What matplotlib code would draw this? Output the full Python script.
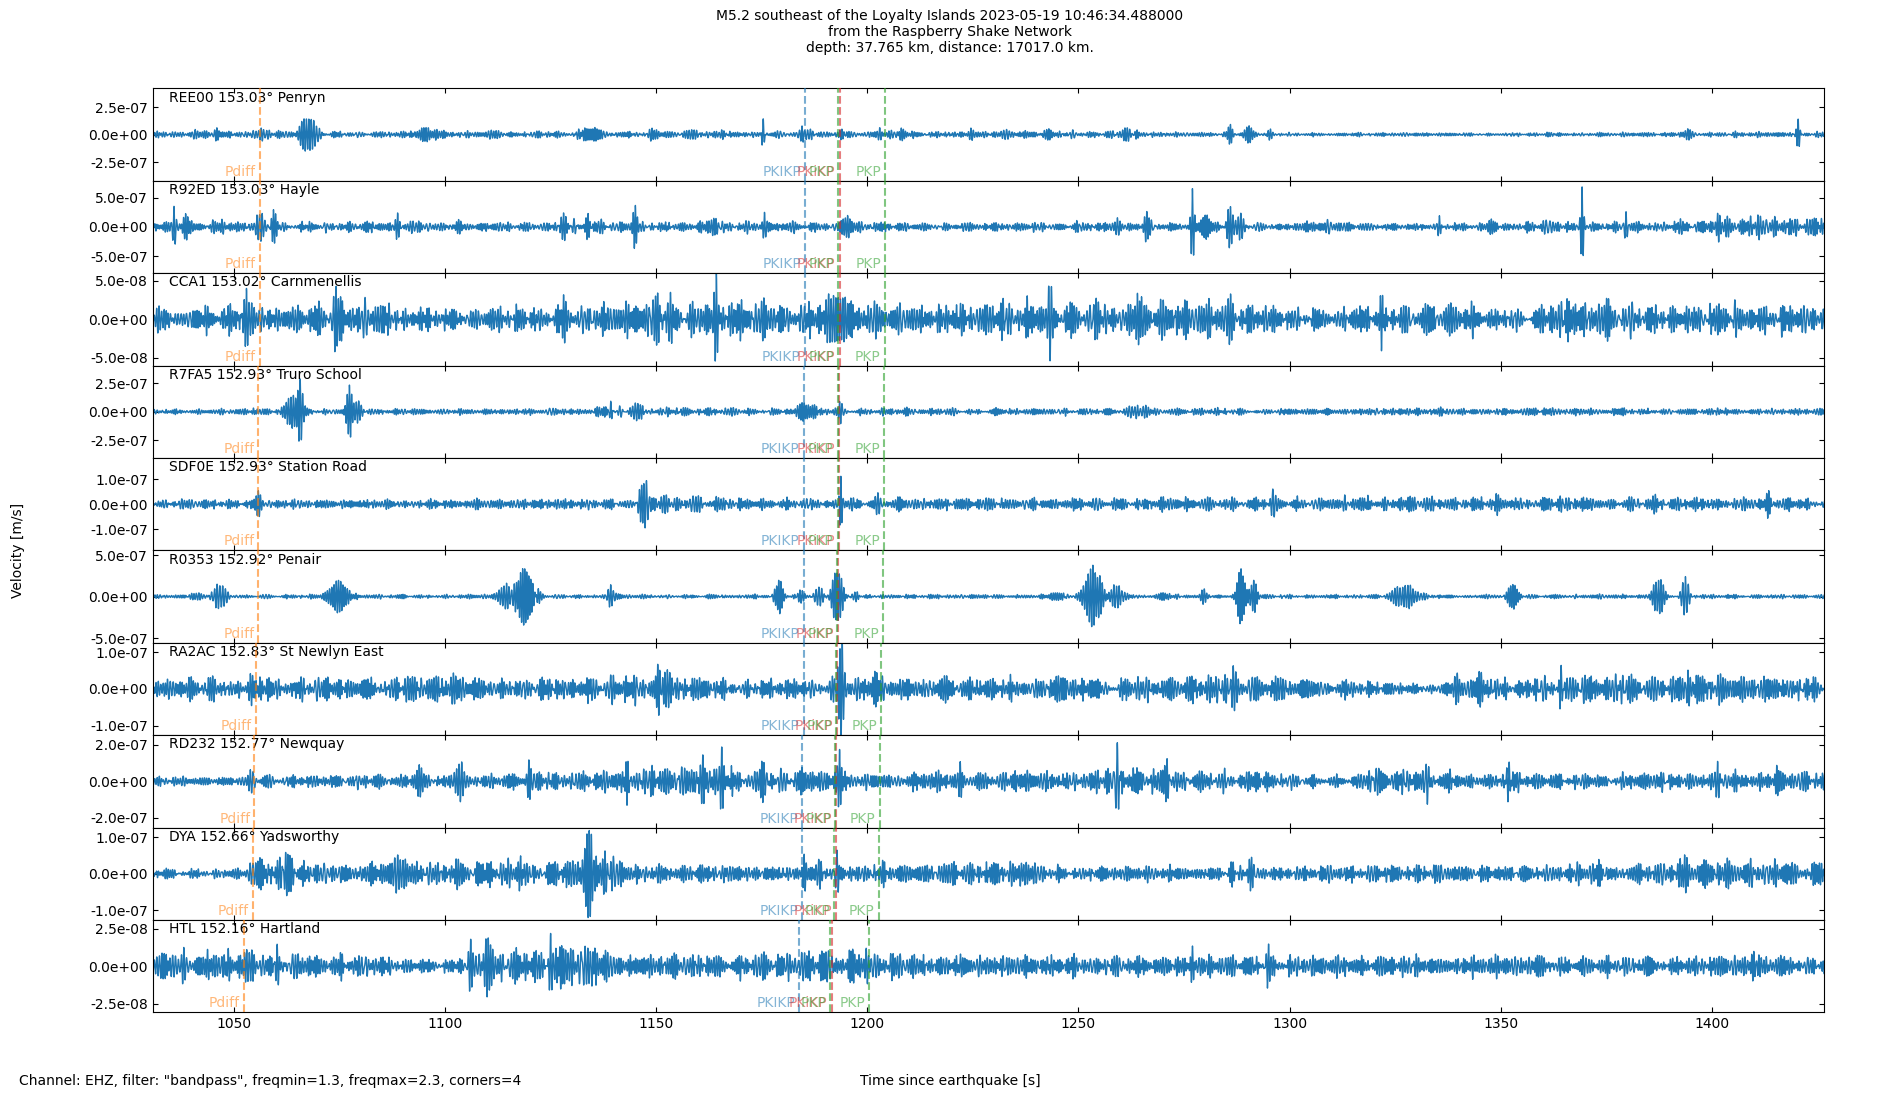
import numpy as np
import matplotlib
matplotlib.use("Agg")
import matplotlib.pyplot as plt
import matplotlib.transforms as mtransforms
from matplotlib.ticker import FormatStrFormatter

# stations, top to bottom
codes = ["REE00", "R92ED", "CCA1", "R7FA5", "SDF0E", "R0353", "RA2AC", "RD232", "DYA", "HTL"]
distances = [153.03, 153.03, 153.02, 152.93, 152.93, 152.92, 152.83, 152.77, 152.66, 152.16]
places = ["Penryn", "Hayle", "Carnmenellis", "Truro School", "Station Road", "Penair",
          "St Newlyn East", "Newquay", "Yadsworthy", "Hartland"]

# phase arrival times [s] per station
pdiff = [1056.1, 1056.1, 1056.0, 1055.7, 1055.7, 1055.7, 1055.2, 1054.8, 1054.4, 1052.2]
pkikp = [1185.2, 1185.2, 1185.1, 1184.9, 1184.9, 1184.9, 1184.9, 1184.6, 1184.6, 1183.9]
pkikp_i = [1193.4, 1193.4, 1193.4, 1193.3, 1193.3, 1193.1, 1192.9, 1192.6, 1192.5, 1191.5]
pkp_a = [1193.1, 1193.1, 1193.1, 1193.0, 1193.0, 1192.8, 1192.6, 1192.3, 1192.2, 1191.2]
pkp_b = [1204.2, 1204.2, 1204.1, 1203.9, 1203.9, 1203.8, 1203.3, 1202.9, 1202.7, 1200.4]

# axis limits and tick steps per panel [m/s]
y_limits = [4.2e-7, 7.93e-7, 6.0e-8, 4.03e-7, 1.84e-7, 5.57e-7, 1.26e-7, 2.52e-7, 1.26e-7, 3.08e-8]
y_steps = [2.5e-7, 5e-7, 5e-8, 2.5e-7, 1e-7, 5e-7, 1e-7, 2e-7, 1e-7, 2.5e-8]

# noise level (time, amplitude)
noise_ree00 = [(1031, 2.1e-8), (1230, 2.2e-8), (1240, 2.4e-8), (1295, 1.2e-8), (1360, 1.2e-8),
               (1400, 1.6e-8), (1427, 1.6e-8)]
noise_r92ed = [(1031, 6e-8), (1110, 5.5e-8), (1150, 7e-8), (1240, 5.5e-8), (1300, 5e-8), (1310, 8e-8),
               (1320, 4.5e-8), (1350, 5e-8), (1360, 8.5e-8), (1368, 5e-8), (1385, 6e-8),
               (1395, 1e-7), (1427, 1.1e-7)]
noise_cca1 = [(1031, 1.1e-8), (1045, 1.3e-8), (1060, 1.4e-8), (1080, 1.7e-8), (1095, 1.2e-8),
              (1105, 9e-9), (1115, 1.3e-8), (1130, 1.3e-8), (1145, 1.5e-8), (1160, 1.9e-8),
              (1175, 1.6e-8), (1200, 1.8e-8), (1215, 1.3e-8), (1235, 1.8e-8), (1260, 1.7e-8),
              (1290, 1.5e-8), (1300, 1.1e-8), (1320, 1.2e-8), (1340, 1.7e-8), (1350, 1e-8),
              (1370, 1.7e-8), (1390, 1.3e-8), (1405, 1.7e-8), (1420, 1.4e-8), (1427, 9e-9)]
noise_r7fa5 = [(1031, 1.6e-8), (1100, 2e-8), (1135, 2e-8), (1150, 3e-8), (1160, 2.5e-8),
               (1175, 2.5e-8), (1200, 2.2e-8), (1250, 2.2e-8), (1300, 2e-8), (1340, 2.5e-8),
               (1427, 2e-8)]
noise_sdf0e = [(1031, 1.6e-8), (1040, 1.3e-8), (1100, 1.4e-8), (1140, 1.5e-8), (1160, 2.5e-8),
               (1170, 1.6e-8), (1300, 2e-8), (1330, 2.2e-8), (1427, 1.8e-8)]
noise_r0353 = [(1031, 1.8e-8), (1427, 1.8e-8)]
noise_ra2ac = [(1031, 1.8e-8), (1100, 2.7e-8), (1120, 2.3e-8), (1160, 2.7e-8), (1170, 1.8e-8),
               (1190, 1.8e-8), (1200, 3e-8), (1210, 2.3e-8), (1260, 2.3e-8), (1280, 2.8e-8),
               (1300, 2.5e-8), (1320, 1.5e-8), (1335, 1e-8), (1340, 2.7e-8), (1400, 2.7e-8),
               (1427, 2.5e-8)]
noise_rd232 = [(1031, 1.8e-8), (1052, 1.8e-8), (1056, 2.7e-8), (1091, 2.7e-8), (1111, 2.7e-8),
               (1121, 4.5e-8), (1138, 4.5e-8), (1145, 5.4e-8), (1170, 5.4e-8), (1183, 5e-8),
               (1195, 3.6e-8), (1250, 3.6e-8), (1260, 6e-8), (1272, 5e-8), (1280, 3.6e-8),
               (1298, 3.6e-8), (1305, 2.2e-8), (1315, 2.2e-8), (1320, 6e-8), (1330, 5e-8),
               (1340, 4e-8), (1345, 2.7e-8), (1352, 5e-8), (1358, 3.2e-8), (1385, 3.2e-8),
               (1395, 2.7e-8), (1405, 3.6e-8), (1427, 3.6e-8)]
noise_dya = [(1031, 1e-8), (1052, 1e-8), (1056, 3e-8), (1065, 2.3e-8), (1100, 2.5e-8),
             (1106, 2.7e-8), (1128, 2.7e-8), (1140, 3e-8), (1145, 1.8e-8), (1195, 1.8e-8),
             (1230, 2.5e-8), (1243, 1.6e-8), (1300, 1.4e-8), (1335, 2e-8), (1355, 1.6e-8),
             (1385, 1.8e-8), (1395, 2.7e-8), (1427, 2.5e-8)]
noise_htl = [(1031, 7.7e-9), (1038, 7.7e-9), (1040, 2.5e-9), (1042, 7.7e-9), (1051, 7e-9),
             (1062, 6.6e-9), (1086, 5.5e-9), (1089, 3.3e-9), (1101, 3.3e-9), (1106, 8e-9),
             (1120, 7.7e-9), (1127, 1.1e-8), (1137, 1.1e-8), (1140, 5.5e-9), (1165, 5.5e-9),
             (1180, 6.6e-9), (1195, 9e-9), (1200, 9e-9), (1205, 6e-9), (1240, 5e-9), (1427, 5e-9)]

# wave packets (time, peak amplitude, half duration)
bursts_ree00 = [(1040.7, 4e-8, 1.0), (1045.9, 7e-8, 0.8), (1057, 3.5e-8, 3), (1060.5, 4.5e-8, 1),
                (1067.1, 1.5e-7, 2.5), (1069.5, 6e-8, 2), (1097, 4e-8, 6), (1112, 2.5e-8, 3),
                (1134, 6.5e-8, 4), (1149.5, 3.5e-8, 2.5), (1159, 2.5e-8, 3), (1165.5, 3.5e-8, 1),
                (1175.3, 1.5e-7, 0.6), (1184.5, 5.5e-8, 3.5), (1194, 4.5e-8, 1.2),
                (1202.9, 8e-8, 0.8), (1208, 4.5e-8, 1.2), (1224.5, 3.5e-8, 1.5), (1233, 5e-8, 3),
                (1244, 2.5e-8, 6), (1261, 5e-8, 4), (1286, 8e-8, 1), (1290.4, 6e-8, 1.5),
                (1295.5, 3.5e-8, 1.5), (1361, 2e-8, 1), (1393.8, 3.5e-8, 2), (1405, 2.5e-8, 1),
                (1420.5, 1.1e-7, 0.8), (1425, 4.5e-8, 1)]
bursts_r92ed = [(1035.7, 4e-7, 0.8), (1038.5, 2e-7, 1.5), (1046, 8.5e-8, 3), (1056, 2e-7, 3),
                (1059.3, 3.1e-7, 1), (1067.8, 1.4e-7, 1), (1082.4, 1.1e-7, 1.5),
                (1088.7, 2.2e-7, 1), (1092.4, 1.7e-7, 1.5), (1102.7, 1.1e-7, 1.5),
                (1128, 2.5e-7, 1.2), (1130.5, 2e-7, 1), (1133.8, 2.8e-7, 1), (1137, 1.4e-7, 1),
                (1145, 2.9e-7, 1), (1163.6, 1.4e-7, 1.5), (1175.6, 2.5e-7, 0.8),
                (1195.3, 1.4e-7, 2), (1249.6, 1e-7, 1), (1259.2, 1.4e-7, 1), (1266.2, 2e-7, 1.5),
                (1277, 5.4e-7, 0.7), (1280, 2.2e-7, 2), (1286, 4e-7, 1.2), (1288.5, 2e-7, 1.5),
                (1305.7, 1.1e-7, 1.5), (1335.5, 2e-7, 0.8), (1347.8, 1.1e-7, 1.5),
                (1369.3, 6e-7, 0.6), (1379.7, 3.4e-7, 0.7), (1391.2, 1.6e-7, 1),
                (1401.4, 2.2e-7, 1), (1411.6, 2e-7, 1.5)]
bursts_cca1 = [(1052.9, 2.6e-8, 1), (1063.3, 1.9e-8, 1), (1074.1, 2.6e-8, 1), (1128, 1.9e-8, 1),
               (1148.4, 3.4e-8, 1), (1150.3, 4e-8, 1), (1153.4, 3.6e-8, 1), (1164.2, 2.6e-8, 1),
               (1192.5, 3e-8, 3), (1243, 3e-8, 1), (1265, 2.4e-8, 1.5), (1286, 2.4e-8, 1),
               (1322, 3e-8, 1), (1365.7, 2.4e-8, 1), (1396, 2.1e-8, 1)]
bursts_r7fa5 = [(1055, 2.9e-8, 1), (1064, 1.6e-7, 3), (1065.6, 2e-7, 1.2), (1077.3, 1.9e-7, 1.5),
                (1079.5, 1e-7, 1.5), (1138, 4.3e-8, 4), (1139.2, 1.3e-7, 0.6), (1145, 5.7e-8, 3),
                (1185.5, 7e-8, 4), (1193.4, 1e-7, 0.8), (1264, 4.3e-8, 4), (1283, 5.7e-8, 0.8),
                (1401.4, 5e-8, 0.8)]
bursts_sdf0e = [(1033, 2e-8, 1.5), (1055.7, 4e-8, 1), (1081.5, 2.6e-8, 1), (1147.7, 8.6e-8, 0.8),
                (1146.5, 6.6e-8, 1.8), (1153, 3.3e-8, 4), (1193.7, 8.6e-8, 0.6),
                (1202.5, 2.6e-8, 1), (1296, 4e-8, 0.8), (1349, 3.3e-8, 1), (1386, 3.3e-8, 1),
                (1413.5, 4.6e-8, 1)]
bursts_r0353 = [(1041, 6e-8, 2), (1046.6, 1.6e-7, 2.5), (1074.7, 1.8e-7, 3.5), (1114.5, 1.4e-7, 3),
                (1118.8, 3.3e-7, 3), (1122, 1e-7, 1.5), (1139.2, 1.2e-7, 1.5), (1179, 1.8e-7, 1.5),
                (1184, 6e-8, 1.5), (1188.5, 1.2e-7, 1.5), (1192.8, 3.3e-7, 2), (1197, 6e-8, 2),
                (1245, 6e-8, 2), (1253.4, 3.3e-7, 3.5), (1259, 1.2e-7, 3), (1270, 4e-8, 4),
                (1279.8, 8e-8, 1), (1288.5, 3.4e-7, 1.5), (1291.5, 1.8e-7, 1.5),
                (1327.4, 1.2e-7, 5), (1352.9, 1.6e-7, 1.8), (1387.4, 2.2e-7, 2),
                (1393.8, 2.4e-7, 1.5)]
bursts_ra2ac = [(1043.9, 3.2e-8, 0.8), (1053.8, 4e-8, 1), (1058.2, 4e-8, 1), (1076, 3.2e-8, 1),
                (1086.2, 4e-8, 1), (1143.3, 4.5e-8, 1), (1152, 4e-8, 4), (1162.3, 4e-8, 1),
                (1194, 9.5e-8, 0.8), (1193.5, 6e-8, 2), (1246.8, 3.6e-8, 1), (1276.4, 3.6e-8, 1),
                (1286, 3.6e-8, 2.5), (1355.5, 4e-8, 1), (1364.4, 3.6e-8, 1), (1379, 3.6e-8, 1),
                (1394.4, 3.6e-8, 1)]
bursts_rd232 = [(1053.8, 5.5e-8, 1), (1093.8, 7e-8, 1), (1103.3, 1e-7, 2.5), (1119.8, 8e-8, 0.8),
                (1143.3, 9e-8, 1), (1156, 7e-8, 1), (1161, 1.73e-7, 0.8), (1165.5, 1.3e-7, 0.8),
                (1175, 7e-8, 1), (1193.4, 1.4e-7, 0.8), (1222, 9e-8, 0.8), (1235, 5.5e-8, 1),
                (1242.6, 5.5e-8, 1), (1259.2, 1.85e-7, 0.8), (1271, 1.2e-7, 0.8),
                (1284.7, 8e-8, 1), (1292.3, 7e-8, 1), (1326, 8e-8, 1), (1332.3, 1.2e-7, 0.8),
                (1352, 7e-8, 1.5), (1388.6, 6.4e-8, 1), (1401.4, 8.5e-8, 1), (1415.4, 5.5e-8, 1)]
bursts_dya = [(1053.8, 2.3e-8, 1), (1062.7, 4e-8, 2), (1073.5, 2.7e-8, 1), (1089.3, 4e-8, 1.5),
              (1102.6, 3.2e-8, 1), (1110.3, 3.2e-8, 1), (1117.9, 3.2e-8, 1), (1134.1, 9.5e-8, 2),
              (1137.8, 6.4e-8, 1), (1185, 4e-8, 0.8), (1189, 3.6e-8, 0.8), (1192.8, 7.3e-8, 0.8),
              (1203, 2.7e-8, 1), (1237, 3.2e-8, 2), (1286.6, 3.6e-8, 1), (1291, 3.6e-8, 1),
              (1368.2, 2.7e-8, 1), (1373.3, 2.7e-8, 1), (1393, 2.7e-8, 2)]
bursts_htl = [(1052.5, 1e-8, 1), (1060.2, 1.5e-8, 0.8), (1106, 9e-9, 1), (1109.6, 2.2e-8, 1.2),
              (1124.9, 1.55e-8, 0.8), (1135, 1.45e-8, 0.8), (1242.6, 1e-8, 0.8), (1277, 1e-8, 1),
              (1295, 1.2e-8, 0.8), (1330, 7e-9, 1), (1410, 8e-9, 1)]

noise_levels = [noise_ree00, noise_r92ed, noise_cca1, noise_r7fa5, noise_sdf0e,
                noise_r0353, noise_ra2ac, noise_rd232, noise_dya, noise_htl]
packets = [bursts_ree00, bursts_r92ed, bursts_cca1, bursts_r7fa5, bursts_sdf0e,
           bursts_r0353, bursts_ra2ac, bursts_rd232, bursts_dya, bursts_htl]

# 100 Hz time axis
t = np.arange(1028.0, 1430.0, 0.01)


def wiggle(s):
	# fixed wobbling 1.3-2.3 Hz wiggle, scaled so its usual swing is about 1
	p1 = (2 * np.pi * 1.8 * t + 4.0 * np.sin(2 * np.pi * 0.041 * t + s)
		+ 2.5 * np.sin(2 * np.pi * 0.117 * t + 2 * s) + 1.0 * np.sin(2 * np.pi * 0.29 * t + 3 * s))
	a1 = 0.75 + 0.3 * np.sin(2 * np.pi * 0.19 * t + s) + 0.2 * np.sin(2 * np.pi * 0.53 * t + 2.3 * s)
	p2 = (2 * np.pi * 1.6 * t + 3.0 * np.sin(2 * np.pi * 0.057 * t + 1.7 * s)
		+ 1.8 * np.sin(2 * np.pi * 0.23 * t + 0.6 * s))
	a2 = 0.6 + 0.4 * np.sin(2 * np.pi * 0.37 * t + 1.3 * s)
	c = a1 * np.sin(p1) + 0.6 * a2 * np.sin(p2)
	return c / (1.6 * c.std())


def make_trace(i):
	kt = [p[0] for p in noise_levels[i]]
	kv = [p[1] for p in noise_levels[i]]
	y = np.interp(t, kt, kv) * wiggle(1.0 + 2.7 * i)
	rough = wiggle(2.3 + 1.9 * i) / 2.0
	for j, (t0, a, d) in enumerate(packets[i]):
		f = 1.5 + 0.6 * ((j * 0.618 + i * 0.29) % 1.0)
		w = d / 2.0
		g = a * np.exp(-0.5 * ((t - t0) / w) ** 2)
		y = y + g * (np.cos(2 * np.pi * f * (t - t0)) + 0.3 * rough)
	return y


fig, axes = plt.subplots(10, 1, sharex=True, figsize=(19, 11), dpi=100)
fig.subplots_adjust(left=0.0804, right=0.9602, top=0.9197, bottom=0.0797, hspace=0)

phases = [("Pdiff", pdiff, "C1"), ("PKIKP", pkikp, "C0"), ("PKiKP", pkikp_i, "C3"),
          ("PKP", pkp_a, "C2"), ("PKP", pkp_b, "C2")]

for i, ax in enumerate(axes):
	ax.plot(t, make_trace(i), color="C0", lw=1.0)
	ax.set_ylim(-y_limits[i], y_limits[i])
	ax.set_yticks([-y_steps[i], 0, y_steps[i]])
	ax.yaxis.set_major_formatter(FormatStrFormatter("%.1e"))
	ax.tick_params(direction="in", top=True, right=True, labelsize=10)
	ax.text(0.01, 0.975, f"{codes[i]} {distances[i]:.2f}° {places[i]}",
		transform=ax.transAxes, ha="left", va="top", fontsize=10)

	trans = mtransforms.blended_transform_factory(ax.transData, ax.transAxes)
	trans_lbl = mtransforms.offset_copy(trans, fig=fig, x=-4, y=0, units="dots")
	for name, times, col in phases:
		ax.axvline(times[i], color=col, ls="--", lw=1.5, alpha=0.6, zorder=3)
		ax.text(times[i], 0.02, name, transform=trans_lbl, ha="right", va="bottom",
			color=col, alpha=0.55, fontsize=10)

axes[-1].set_xlim(1030.7, 1426.7)
axes[-1].set_xticks(np.arange(1050, 1401, 50))

fig.suptitle("M5.2 southeast of the Loyalty Islands 2023-05-19 10:46:34.488000\n"
	"from the Raspberry Shake Network\ndepth: 37.765 km, distance: 17017.0 km.",
	fontsize=10, y=0.992)
fig.text(0.5, 0.017, "Time since earthquake [s]", ha="center", va="center", fontsize=10)
fig.text(0.01, 0.017, 'Channel: EHZ, filter: "bandpass", freqmin=1.3, freqmax=2.3, corners=4',
	ha="left", va="center", fontsize=10)
fig.text(0.0097, 0.5, "Velocity [m/s]", rotation=90, ha="center", va="center", fontsize=10)

fig.savefig("out.png", dpi=100)
